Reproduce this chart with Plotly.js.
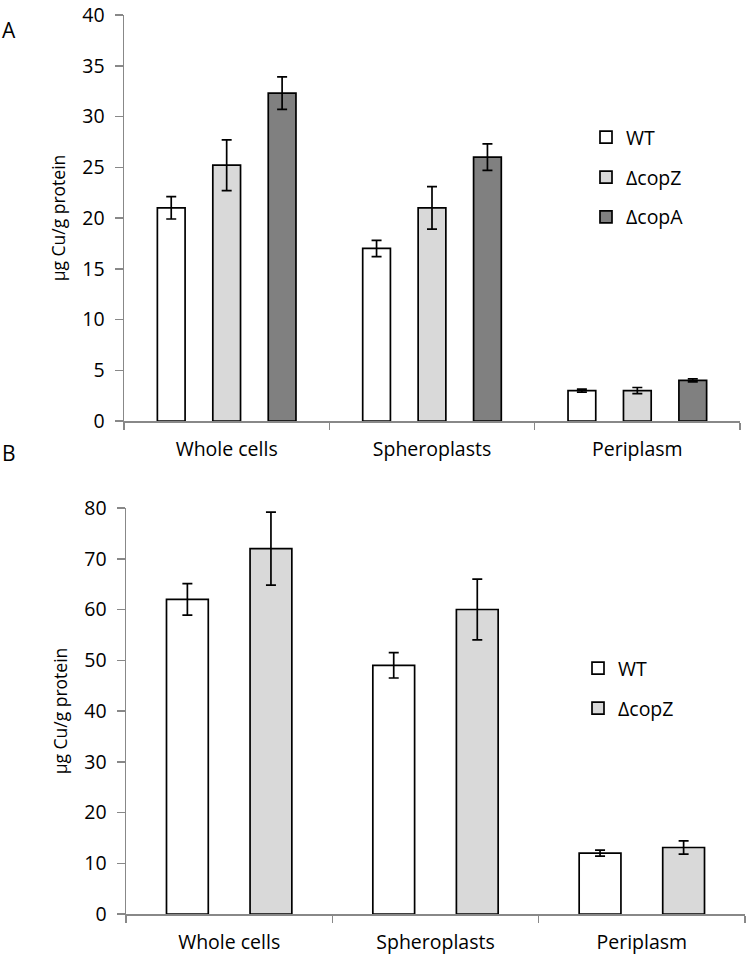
<!DOCTYPE html>
<html>
<head>
<meta charset="utf-8">
<script src="https://cdn.plot.ly/plotly-3.0.1.min.js"></script>
<style>html,body{margin:0;padding:0;background:#fff;}#chart{width:752px;height:960px;}</style>
</head>
<body>
<div id="chart"></div>
<script>
// Categories
const categories = ["Whole cells", "Spheroplasts", "Periplasm"];

// Panel A (µg Cu/g protein)
const aWT = [21.0, 17.0, 3.0];
const aWTerr = [1.1, 0.8, 0.15];
const aCopZ = [25.2, 21.0, 3.0];
const aCopZerr = [2.5, 2.1, 0.3];
const aCopA = [32.3, 26.0, 4.0];
const aCopAerr = [1.6, 1.3, 0.15];

// Panel B (µg Cu/g protein)
const bWT = [62.0, 49.0, 12.0];
const bWTerr = [3.1, 2.5, 0.6];
const bCopZ = [72.0, 60.0, 13.1];
const bCopZerr = [7.2, 6.0, 1.3];

const seriesNames = ["WT", "\u0394copZ", "\u0394copA"];
const seriesColors = ["#ffffff", "#d9d9d9", "#808080"];

const FONT = "Open Sans, Liberation Sans, Arial, sans-serif";

function barTrace(name, y, err, color, xa, ya, legend, group) {
  return {
    type: "bar", name: name, x: categories, y: y,
    xaxis: xa, yaxis: ya, legend: legend, legendgroup: group,
    marker: {color: color, line: {color: "#000000", width: 1.7}},
    error_y: {type: "data", array: err, visible: true, color: "#000000", thickness: 1.7, width: 5},
    hoverinfo: "skip"
  };
}

const data = [
  barTrace(seriesNames[0], aWT, aWTerr, seriesColors[0], "x", "y", "legend", "a0"),
  barTrace(seriesNames[1], aCopZ, aCopZerr, seriesColors[1], "x", "y", "legend", "a1"),
  barTrace(seriesNames[2], aCopA, aCopAerr, seriesColors[2], "x", "y", "legend", "a2"),
  barTrace(seriesNames[0], bWT, bWTerr, seriesColors[0], "x2", "y2", "legend2", "b0"),
  barTrace(seriesNames[1], bCopZ, bCopZerr, seriesColors[1], "x2", "y2", "legend2", "b1")
];

const axisCommon = {
  showline: true, linecolor: "#888888", linewidth: 1.5,
  showgrid: false, zeroline: false,
  ticks: "outside", tickcolor: "#888888", tickwidth: 1.5,
  tickfont: {family: FONT, size: 19.5, color: "#000000"}
};

const layout = {
  width: 752, height: 960,
  margin: {l: 0, r: 0, t: 0, b: 0},
  paper_bgcolor: "#ffffff", plot_bgcolor: "#ffffff",
  font: {family: FONT, color: "#000000"},
  barmode: "group",
  bargap: 0.19, bargroupgap: 0.5,
  showlegend: true,
  xaxis: Object.assign({}, axisCommon, {
    domain: [124/752, 740/752], anchor: "y",
    type: "category", range: [-0.5, 2.5],
    tickson: "boundaries", ticklen: 7, ticklabelstandoff: 10
  }),
  yaxis: Object.assign({}, axisCommon, {
    domain: [1 - 421/960, 1 - 15/960], anchor: "x",
    range: [0, 40], dtick: 5, ticklen: 8, ticklabelstandoff: 6,
    title: {text: "\u00b5g Cu/g protein", font: {family: FONT, size: 17.5, color: "#000000"}, standoff: 12}
  }),
  xaxis2: Object.assign({}, axisCommon, {
    domain: [126/752, 745/752], anchor: "y2",
    type: "category", range: [-0.5, 2.5],
    tickson: "boundaries", ticklen: 7, ticklabelstandoff: 10
  }),
  yaxis2: Object.assign({}, axisCommon, {
    domain: [1 - 914/960, 1 - 508/960], anchor: "x2",
    range: [0, 80], dtick: 10, ticklen: 8, ticklabelstandoff: 6,
    title: {text: "\u00b5g Cu/g protein", font: {family: FONT, size: 17.5, color: "#000000"}, standoff: 12}
  }),
  legend: {
    x: 586/752, y: 1 - 118/960, xanchor: "left", yanchor: "top",
    bgcolor: "rgba(0,0,0,0)", borderwidth: 0,
    font: {family: FONT, size: 19.5, color: "#000000"},
    traceorder: "grouped", tracegroupgap: 11.5, itemwidth: 30
  },
  legend2: {
    x: 578/752, y: 1 - 649/960, xanchor: "left", yanchor: "top",
    bgcolor: "rgba(0,0,0,0)", borderwidth: 0,
    font: {family: FONT, size: 19.5, color: "#000000"},
    traceorder: "grouped", tracegroupgap: 11.5, itemwidth: 30
  },
  annotations: [
    {text: "A", xref: "paper", yref: "paper", x: 0, y: 1 - 30/960, xanchor: "left", yanchor: "middle", showarrow: false, font: {family: FONT, size: 21, color: "#000000"}},
    {text: "B", xref: "paper", yref: "paper", x: 0, y: 1 - 453/960, xanchor: "left", yanchor: "middle", showarrow: false, font: {family: FONT, size: 21, color: "#000000"}}
  ]
};

Plotly.newPlot("chart", data, layout, {displayModeBar: false, staticPlot: true});
</script>
</body>
</html>
